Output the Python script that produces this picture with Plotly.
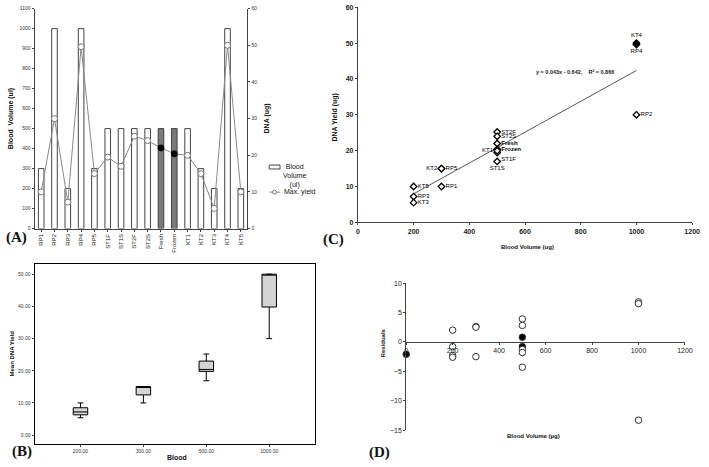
import plotly.graph_objects as go

W, H = 709, 467

# ---------------- data ----------------
samples = ["RP1", "RP2", "RP3", "RP4", "RP5", "ST1F", "ST1S", "ST2F", "ST2S",
           "Fresh", "Frozen", "KT1", "KT2", "KT3", "KT4", "KT5"]
blood_volume = [300, 1000, 200, 1000, 300, 500, 500, 500, 500, 500, 500, 500, 300, 200, 1000, 200]
max_yield = [10, 30, 7.2, 49.6, 15, 19.5, 17, 25.2, 24, 22, 20.4, 20, 15, 5.5, 50, 10]
highlight = ["Fresh", "Frozen"]

label_pos = ["middle right", "middle right", "middle right", "bottom center", "middle right",
             "bottom right", "bottom center", "middle right", "middle right", "middle right",
             "middle right", "middle left", "middle left", "middle right", "top center", "middle right"]
slope, intercept, r2 = 0.043, -0.642, 0.866
trend_x = [200, 1000]

box_cats = ["200.00", "300.00", "500.00", "1000.00"]
box_low = [5.4, 10.0, 16.9, 30.0]
box_q1 = [6.3, 12.5, 19.8, 39.8]
box_med = [7.2, 15.0, 20.4, 49.8]
box_q3 = [8.5, 15.1, 23.0, 50.0]
box_high = [10.0, 15.1, 25.2, 50.0]

resid_x = [0, 200, 200, 200, 200, 300, 300, 300, 500, 500, 500, 500, 500, 500, 500, 1000, 1000, 1000]
resid_y = [-2.1, 2.0, -0.8, -2.3, -2.6, 2.6, 2.5, -2.5, 3.9, 2.8, 0.8, -0.8, -1.3, -1.8, -4.3, 6.8, 6.5, -13.3]
resid_filled = [1, 0, 0, 0, 0, 0, 0, 0, 0, 0, 1, 1, 0, 0, 0, 0, 0, 0]


def px(x):
    return x / W


def py(y):
    return 1 - y / H


FONT = "Liberation Sans, Arial, sans-serif"
SERIF = "Liberation Serif, Times New Roman, serif"

fig = go.Figure()

# ---------------- Panel A ----------------
bar_fill = ["#7a7a7a" if s in highlight else "white" for s in samples]
fig.add_trace(go.Bar(x=samples, y=blood_volume, marker=dict(color=bar_fill, line=dict(color="#444", width=1)),
                     xaxis="x", yaxis="y", showlegend=False, width=0.42))
mk_fill = ["black" if s in highlight else "white" for s in samples]
mk_line = ["black" if s in highlight else "#777" for s in samples]
fig.add_trace(go.Scatter(x=samples, y=max_yield, mode="lines+markers",
                         line=dict(color="#8a8a8a", width=1),
                         marker=dict(symbol="circle", size=6, color=mk_fill, line=dict(color=mk_line, width=1)),
                         xaxis="x", yaxis="y2", showlegend=False, cliponaxis=False))

# ---------------- Panel C ----------------
tx = trend_x
ty = [slope * v + intercept for v in tx]
fig.add_trace(go.Scatter(x=tx, y=ty, mode="lines", line=dict(color="#555", width=1),
                         xaxis="x3", yaxis="y3", showlegend=False))
c_fill = ["black" if s in ("KT4", "RP4") else "white" for s in samples]
c_font = ["<b>%s</b>" % s if s in highlight else s for s in samples]
fig.add_trace(go.Scatter(x=blood_volume, y=max_yield, mode="markers+text", text=c_font,
                         textposition=label_pos, textfont=dict(size=6, color="black", family=FONT),
                         marker=dict(symbol="diamond", size=5, color=c_fill, line=dict(color="black", width=1.3)),
                         xaxis="x3", yaxis="y3", showlegend=False, cliponaxis=False))

# ---------------- Panel B ----------------
fig.add_trace(go.Box(x=box_cats, q1=box_q1, median=box_med, q3=box_q3, lowerfence=box_low,
                     upperfence=box_high, fillcolor="#d4d4d4", line=dict(color="black", width=1),
                     width=0.23, whiskerwidth=0.4, xaxis="x4", yaxis="y4", showlegend=False,
                     boxpoints=False))

# ---------------- Panel D ----------------
d_fill = ["black" if f else "white" for f in resid_filled]
fig.add_trace(go.Scatter(x=resid_x, y=resid_y, mode="markers",
                         marker=dict(symbol="circle", size=6.5, color=d_fill, line=dict(color="#333", width=1)),
                         xaxis="x5", yaxis="y5", showlegend=False, cliponaxis=False))

# domains
A_x = [px(33), px(249)]
A_y = [py(228), py(4.7)]
C_x = [px(361), px(700)]
C_y = [py(221.7), py(3.3)]
B_x = [px(33), px(317)]
B_y = [py(447), py(264)]
D_x = [px(410), px(692.7)]
D_y = [py(432.7), py(283.3)]
D_yr = [-15, 10]
d_zero = D_y[0] + (0 - D_yr[0]) / (D_yr[1] - D_yr[0]) * (D_y[1] - D_y[0])

tiny = dict(size=5, family=FONT, color="#333")
boldtick = dict(size=7, family=FONT, color="#222", weight="bold")
ax_common = dict(showgrid=False, zeroline=False, showline=True, linecolor="#444", linewidth=1,
                 ticks="outside", ticklen=2, tickcolor="#444")

fig.update_layout(
    width=W, height=H, margin=dict(l=0, r=0, t=0, b=0),
    paper_bgcolor="white", plot_bgcolor="rgba(0,0,0,0)",
    font=dict(family=FONT, color="#222"),
    xaxis=dict(domain=A_x, anchor="y", range=[-0.5, 15.5], tickangle=-90, tickfont=dict(size=6, family=FONT),
               **ax_common),
    yaxis=dict(domain=A_y, anchor="x", range=[0, 1100], dtick=100, tickfont=tiny, **ax_common),
    yaxis2=dict(overlaying="y", side="right", anchor="x", range=[0, 60], dtick=10, tickfont=tiny, **ax_common),
    xaxis3=dict(domain=C_x, anchor="y3", range=[0, 1200], dtick=200, tickfont=boldtick, **ax_common),
    yaxis3=dict(domain=C_y, anchor="x3", range=[0, 60], dtick=10, tickfont=boldtick, **ax_common),
    xaxis4=dict(domain=B_x, anchor="y4", range=[-0.73, 3.72], mirror=True, showline=True, linecolor="black",
                linewidth=1, ticks="outside", ticklen=2, showgrid=False, zeroline=False,
                tickfont=dict(size=5, family=FONT, color="#333")),
    yaxis4=dict(domain=B_y, anchor="x4", range=[-2.85, 53.15], dtick=10, tickformat=".2f", mirror=True,
                showline=True, linecolor="black", linewidth=1, ticks="outside", ticklen=2, showgrid=False,
                zeroline=False, tickfont=dict(size=5, family=FONT, color="#333")),
    xaxis5=dict(domain=D_x, anchor="free", position=d_zero, range=[0, 1200], dtick=200,
                tickfont=dict(size=7, family=FONT, color="#222"), **ax_common),
    yaxis5=dict(domain=D_y, anchor="x5", range=D_yr, dtick=5,
                tickfont=dict(size=7, family=FONT, color="#222"), **ax_common),
)

ann = []


def add_text(text, x, y, size=7, bold=True, angle=0, family=FONT, xanchor="center", yanchor="middle"):
    t = f"<b>{text}</b>" if bold else text
    ann.append(dict(text=t, x=px(x), y=py(y), xref="paper", yref="paper", showarrow=False,
                    textangle=angle, font=dict(size=size, family=family, color="#111"),
                    xanchor=xanchor, yanchor=yanchor))


# axis titles
add_text("Blood  Volume (ul)", 9, 116, size=7, angle=-90)
add_text("DNA (ug)", 269, 116, size=7, angle=-90)
add_text("DNA Yield (ug)", 338, 115, size=7, angle=-90)
add_text("Blood Volume (ug)", 533, 247, size=6)
add_text("Mean DNA Yield", 10, 355, size=6, angle=-90)
add_text("Blood", 177, 460, size=7)
add_text("Residuals", 386, 344, size=6, angle=-90)
add_text("Blood Volume (µg)", 539, 439, size=6)
# panel letters
add_text("(A)", 15, 237, size=15, family=SERIF)
add_text("(B)", 20, 454, size=15, family=SERIF)
add_text("(C)", 336, 239, size=15, family=SERIF)
add_text("(D)", 383, 455, size=15, family=SERIF)
# equation
ann.append(dict(text=f"<b>y = {slope}x - {abs(intercept)},    R² = {r2}</b>", x=780, y=42, xref="x3", yref="y3",
                showarrow=False, font=dict(size=5.5, family=FONT, color="#222")))
# legend for panel A
add_text("Blood<br>Volume<br>(ul)", 283, 175, size=7, bold=False, xanchor="left")
add_text("Max. yield", 284, 191, size=7, bold=False, xanchor="left")
fig.update_layout(annotations=ann)

shapes = [
    dict(type="rect", xref="paper", yref="paper", x0=px(271), x1=px(282), y0=py(167.5), y1=py(163.5),
         line=dict(color="#444", width=1), fillcolor="white"),
    dict(type="line", xref="paper", yref="paper", x0=px(271), x1=px(282), y0=py(191), y1=py(191),
         line=dict(color="#8a8a8a", width=1)),
    dict(type="circle", xref="paper", yref="paper", x0=px(274.5), x1=px(278.5), y0=py(193), y1=py(189),
         line=dict(color="#777", width=1), fillcolor="white"),
]
fig.update_layout(shapes=shapes)

fig.write_html("out.html", config={"displayModeBar": False},
               post_script="document.body.style.margin='0px';")
